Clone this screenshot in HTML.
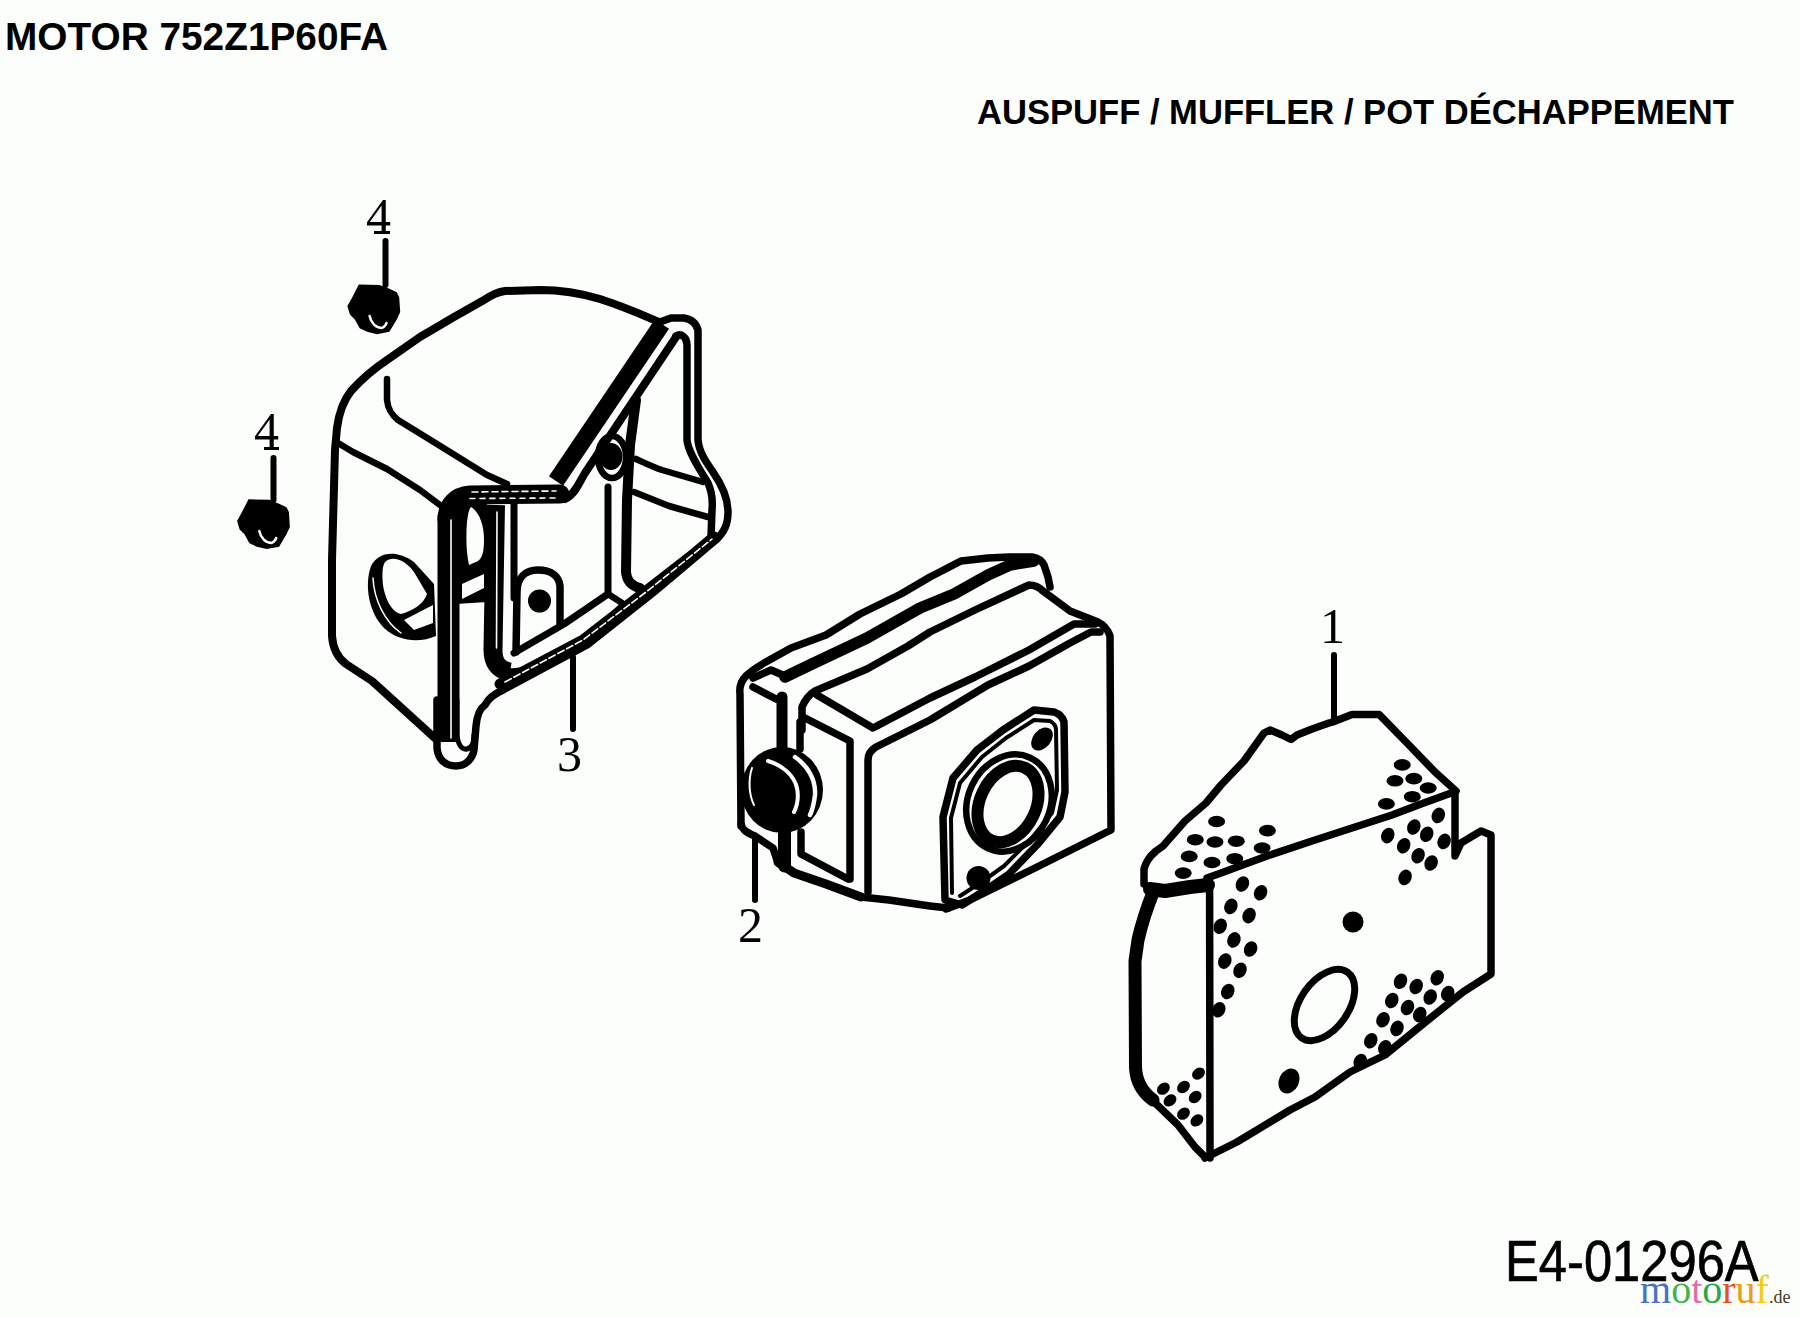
<!DOCTYPE html>
<html><head><meta charset="utf-8">
<style>
html,body{margin:0;padding:0;background:#fcfefc;width:1800px;height:1317px;overflow:hidden;position:relative}
.t{position:absolute;white-space:nowrap;color:#000;line-height:1}
.h1{font:bold 38.8px "Liberation Sans",sans-serif;left:5px;top:15px}
.h2{font:bold 34.6px "Liberation Sans",sans-serif;left:977px;top:92.5px}
.lb{font:50px "Liberation Serif",serif}
.code{font:58px "Liberation Sans",sans-serif;-webkit-text-stroke:0.7px #000;left:1505px;top:1227px;transform:scaleX(0.874);transform-origin:0 0}
.wm{font:40px "Liberation Serif",serif;left:1640px;top:1266px;letter-spacing:0}
svg{position:absolute;left:0;top:0}
</style></head><body>
<div class="t h1">MOTOR 752Z1P60FA</div>
<div class="t h2">AUSPUFF / MUFFLER / POT DÉCHAPPEMENT</div>
<svg width="1800" height="1317" viewBox="0 0 1800 1317">
<g fill="none" stroke="#000" stroke-linecap="round" stroke-linejoin="round">
<!-- ===== PART 3 ===== -->
<g id="p3" stroke-width="8">
<path d="M659,322 C645,316 625,307 600,299 C580,293 560,290 540,290 L505,291 C497,292 490,296 484,300 L454,317 L420,337 L387,360 C372,370 360,381 351,391 C343,401 339,413 337,428 L335,450 L332,560 L332,636 C333,650 338,658 346,664 L372,681 L437,740"/>
<path d="M387,379 L387,400 C388,410 392,415 398,420 L437,444 L487,475 L507,484" stroke-width="6.5"/>
<path d="M338,443 L353,452 L387,469 L420,490 L444,508" stroke-width="6.5"/>
<!-- rim outer contour -->
<path d="M660,322 L671,318 L684,318 C691,319 696,323 698,330 L698,440 C699,452 706,462 713,472 C722,485 728,497 728,512 C728,525 724,532 716,540 L697,556 L654,592 L587,645 L503,690 C494,694 488,699 485,705 C479,709 477,716 476,726 L474,750 C472,760 465,766 456,766 C446,766 438,760 437,748 L437,700" stroke-width="7.5"/>
<!-- bottom band (double line merged) -->
<path d="M714,537 L695,553 L650,588 L583,640 L500,684" stroke-width="11"/>
<!-- rim inner contour right side -->
<path d="M676,336 C681,333 687,337 687,345 L687,440 C688,452 700,470 708,483 C712,492 713,500 712,510 L711,537" stroke-width="7.5"/>

<!-- C region between band1 and band2 -->
<path d="M456,503 L487,503 L487,602 L456,604 Z" fill="#000" stroke="none"/>
<path d="M471,507 C479,512 484,524 484,540 C484,552 482,558 478,561 L469,565 C466,552 466,535 467,522 C468,514 469,509 471,507 Z" fill="#fcfefc" stroke="none"/>
<path d="M462,584 L484,574 L484,588 L462,599 Z" fill="#fcfefc" stroke="none"/>
<!-- side oval opening -->
<path d="M371,566 C378,552 396,549 414,562 L434,584 L436,636 C420,643 399,642 384,628 C369,613 364,586 371,566 Z" fill="#000" stroke="none"/>
<path d="M385,562 C393,555 405,560 414,572 L427,594 C424,604 412,611 401,614 C391,612 385,598 383,585 C382,575 382,567 385,562 Z" fill="#fcfefc" stroke="none"/>
<path d="M404,620 L433,605 L433,623 L414,630 Z" fill="#fcfefc" stroke="none"/>
<path d="M373,578 C374,600 385,622 401,633" stroke="#fcfefc" stroke-width="1.5"/>
<!-- band1 diagonal -->
<path d="M662,324 L556,481" stroke-width="17" stroke-linecap="butt"/>
<!-- band2 diagonal -->
<path d="M676,337 L585,473 C580,481 575,495 565,499" stroke-width="8"/>
<!-- horizontal band -->
<path d="M560,494 L470,495 C456,496 447,505 447,520" stroke-width="19"/>
<!-- vertical band left -->
<path d="M448.5,515 L448.5,742" stroke-width="22" stroke-linecap="butt"/>

<!-- tab inner U -->
<path d="M457,700 L457,735 C458,745 462,750 467,749 C472,748 474,742 474,735" stroke-width="5"/>
<!-- interior vertical band 2 -->
<path d="M495.5,505 L493,650 C493,662 498,670 510,672" stroke-width="19" stroke-linecap="butt"/>
<!-- white strip lower boundary -->
<path d="M494,668 C504,673 520,672 534,668 L576,650 L622,606" stroke-width="6.5"/>
<!-- white strip upper boundary / lug -->
<path d="M514,653 L564,624 L608,594 L608,487" stroke-width="7"/>
<path d="M608,594 L622,603" stroke-width="6.5"/>
<!-- lug -->
<path d="M516,652 L517,592 C517,578 525,570 538,570 C551,570 559,576 560,586 L560,624" stroke-width="7.5"/>
<circle cx="539.5" cy="601" r="11.5" fill="#000" stroke="none"/>
<path d="M514,503 L514,598" stroke-width="7"/>
<!-- post thick -->
<path d="M636,400 L630,445 L627,500 L626,572 C627,582 632,586 640,588" stroke-width="10"/>
<!-- inner wall lines -->
<path d="M636,459 C645,463 653,467 662,470 L703,482" stroke-width="6.5"/>
<path d="M634,492 L669,506 L708,517" stroke-width="6.5"/>
<!-- nut hole at top -->
<ellipse cx="612" cy="457" rx="14" ry="21" stroke-width="6.5"/>
<ellipse cx="611" cy="456.5" rx="11.5" ry="13.5" fill="#000" stroke="none"/>
<!-- white hairlines inside bands -->
<g stroke="#fcfefc" stroke-width="1.6" fill="none">
<path d="M451,520 L451,738"/>
<path d="M497,512 L496.5,648"/>
<path d="M505,682 L583,640 L650,589 L712,539" stroke-dasharray="7 3"/>
<path d="M472,492 L556,491" stroke-dasharray="6 4"/>
<path d="M470,498.5 L558,498" stroke-dasharray="5 5"/>
</g>
</g>
<!-- ===== PART 2 ===== -->
<g id="p2" stroke-width="7.5">
<!-- flange outer -->
<path d="M741,826 L740,694 C739,686 742,680 746,676 C752,670 758,667 764,663 L791,648 L826,635 L860,614 L901,594 L930,577 L961,561 L988,558 L1009,557 L1032,557 C1038,558 1042,561 1044,565 L1048,577 L1050,587"/>
<!-- flange bottom left edge -->
<path d="M741,824 C742,829 745,832 755,836 L773,848 L778,863 L794,873 L826,884 L861,897 L889,900 L930,906 L948,908"/>
<!-- corner small face -->
<path d="M753,678 L771,670 L785,676 M753,687 L776,699"/>
<path d="M782,697 L782,752" stroke-width="11"/>
<path d="M800,722 L800,749" stroke-width="7.5"/>
<!-- flange inner thick edge -->
<path d="M785,677 L812,664 L867,638 L920,608 L954,594 L988,575 L1010,565 L1034,561" stroke-width="11.5"/>
<!-- body top-left edge + back + right edge -->
<path d="M802,730 L802,707 C805,700 810,694 815,691 L867,669 L908,646 L930,632 L975,610 L1016,591 L1029,585 C1035,585 1040,588 1043,591 L1070,611 L1098,622 C1104,625 1108,630 1110,636 L1111,830 L1037,867 L970,900 L946,909"/>
<!-- top face front edge -->
<path d="M817,695 L873,728 L930,698 L975,677 L1029,650 L1074,624 L1095,624"/>
<!-- front face top edge + left edge -->
<path d="M868,892 L868,760 C868,754 871,750 876,747 L930,720 L988,685 L1029,666 L1070,643 L1091,632 L1100,632"/>
<!-- flange side face -->
<path d="M805,718 L850,741 L850,879"/>
<path d="M784.5,826 L784.5,866" stroke-width="13"/>
<path d="M801,832 L801,854 L848,879"/>
<path d="M778,862 L794,873 L826,884 L861,897" stroke-width="9"/>
<!-- pipe boss -->
<ellipse cx="782" cy="790" rx="41" ry="43" fill="#000" stroke="none"/>
<path d="M795,757 C808,766 816,780 815,795 C814,803 813,809 810,815" stroke="#fcfefc" stroke-width="4.5"/>
<path d="M768,761 C782,765 794,775 797,788 C799,798 797,806 794,812" stroke="#fcfefc" stroke-width="4"/>
<path d="M752,768 C748,780 749,795 754,805" stroke="#fcfefc" stroke-width="2"/>
<!-- front flange plate -->
<path d="M945,900 L943,817 L953,778 L977,750 L1003,730 L1034,710 L1054,712 C1060,714 1063,718 1064,722 L1065,792 L1060,817 L1037,845 L1009,874 L987,889 L962,905 Z"/>
<path d="M952,893 L951,818 L960,783 L982,757 L1006,738 L1034,720 L1050,721 C1054,723 1056,726 1056,730 L1057,790 L1052,813 L1031,839 L1004,866 L983,881 L960,896" stroke-width="4"/>
<!-- big ring -->
<ellipse cx="1009" cy="803" rx="41" ry="50" transform="rotate(25 1009 803)" stroke-width="6.5"/>
<ellipse cx="1008" cy="804" rx="28" ry="40" transform="rotate(25 1008 804)" stroke-width="12"/>
<!-- bolt holes -->
<ellipse cx="1042" cy="739" rx="9" ry="13" transform="rotate(40 1042 739)" fill="#000" stroke="none"/>
<circle cx="978.5" cy="878" r="12" fill="#000" stroke="none"/>
</g>
<!-- ===== PART 1 ===== -->
<g id="p1" stroke-width="7.5">
<!-- top outline -->
<path d="M1144,884 L1144,869 C1146,861 1150,856 1156,851 L1163,846 L1185,821 L1206,803 L1221,785 L1244,761 L1264,733 L1270,730 L1282,735 L1291,739.5 L1297,735 L1312,729 L1329,723 L1334,721.6 L1352,714.4 L1379,714.4 L1407,743 L1435,772 L1456,791"/>
<!-- right fold vertical + notch + right edge + bottom -->
<path d="M1455,792 L1455,856 L1461,843 L1481,831 L1491,835 L1491,974 L1463,992 L1428,1020 L1385,1055 L1350,1072 L1315,1097 L1290,1110 L1237,1142 L1205,1158"/>
<!-- fold diagonal -->
<path d="M1207,878 L1221,873 L1267,856 L1312,841 L1392,815 L1421,804 L1454,792"/>
<!-- left thick edge -->
<path d="M1154,890 C1148,905 1142,922 1138,940 L1135,961 L1135.5,1067 C1136,1080 1142,1092 1153,1100" stroke-width="13"/>
<path d="M1150,1098 L1178,1125 L1195,1147 L1205,1157" stroke-width="7.5"/>
<path d="M1150,889 L1165,891 L1190,887 L1208,885" stroke-width="14"/>
<!-- vertical fold -->
<path d="M1209.6,883 L1210,1158"/>
<!-- big oval -->
<ellipse cx="1324.5" cy="1005" rx="24" ry="40" transform="rotate(35 1324.5 1005)" stroke-width="7"/>
<!-- filled dots -->
<g fill="#000" stroke="none">
<circle cx="1353" cy="922" r="10.5"/>
<ellipse cx="1289" cy="1081" rx="10" ry="13" transform="rotate(25 1289 1081)"/>
<ellipse cx="1216.6" cy="821.5" rx="8.5" ry="5.8"/>
<ellipse cx="1195.3" cy="839.7" rx="8.5" ry="5.8"/>
<ellipse cx="1215" cy="842" rx="8.5" ry="5.8"/>
<ellipse cx="1236.3" cy="841.2" rx="8.5" ry="5.8"/>
<ellipse cx="1267.4" cy="830.6" rx="8.5" ry="5.8"/>
<ellipse cx="1262.1" cy="848" rx="8.5" ry="5.8"/>
<ellipse cx="1189.2" cy="856.4" rx="8.5" ry="5.8"/>
<ellipse cx="1212" cy="862.5" rx="8.5" ry="5.8"/>
<ellipse cx="1234.8" cy="858.7" rx="8.5" ry="5.8"/>
<ellipse cx="1183.2" cy="873.1" rx="8.5" ry="5.8"/>
<ellipse cx="1402.2" cy="764.9" rx="8.5" ry="5.8"/>
<ellipse cx="1395" cy="780.8" rx="8.5" ry="5.8"/>
<ellipse cx="1413.8" cy="778.6" rx="8.5" ry="5.8"/>
<ellipse cx="1428.2" cy="788" rx="8.5" ry="5.8"/>
<ellipse cx="1412.3" cy="796.7" rx="8.5" ry="5.8"/>
<ellipse cx="1386.4" cy="803.9" rx="8.5" ry="5.8"/>
<ellipse cx="1242.4" cy="884" rx="6.5" ry="8" transform="rotate(25 1242.4 884)"/>
<ellipse cx="1260.6" cy="892.8" rx="6.5" ry="8" transform="rotate(25 1260.6 892.8)"/>
<ellipse cx="1230.9" cy="906.4" rx="6.5" ry="8" transform="rotate(25 1230.9 906.4)"/>
<ellipse cx="1249.1" cy="915.6" rx="6.5" ry="8" transform="rotate(25 1249.1 915.6)"/>
<ellipse cx="1220.2" cy="926.2" rx="6.5" ry="8" transform="rotate(25 1220.2 926.2)"/>
<ellipse cx="1233.9" cy="939.9" rx="6.5" ry="8" transform="rotate(25 1233.9 939.9)"/>
<ellipse cx="1250.6" cy="949" rx="6.5" ry="8" transform="rotate(25 1250.6 949)"/>
<ellipse cx="1224.8" cy="961.1" rx="6.5" ry="8" transform="rotate(25 1224.8 961.1)"/>
<ellipse cx="1240" cy="970.2" rx="6.5" ry="8" transform="rotate(25 1240 970.2)"/>
<ellipse cx="1227.8" cy="991.5" rx="6.5" ry="8" transform="rotate(25 1227.8 991.5)"/>
<ellipse cx="1218.7" cy="1009.7" rx="6.5" ry="8" transform="rotate(25 1218.7 1009.7)"/>
<ellipse cx="1387.8" cy="835.6" rx="6.5" ry="8" transform="rotate(25 1387.8 835.6)"/>
<ellipse cx="1413.8" cy="827" rx="6.5" ry="8" transform="rotate(25 1413.8 827)"/>
<ellipse cx="1438.3" cy="815.4" rx="6.5" ry="8" transform="rotate(25 1438.3 815.4)"/>
<ellipse cx="1426.7" cy="834.2" rx="6.5" ry="8" transform="rotate(25 1426.7 834.2)"/>
<ellipse cx="1444.1" cy="841.4" rx="6.5" ry="8" transform="rotate(25 1444.1 841.4)"/>
<ellipse cx="1403.7" cy="845.7" rx="6.5" ry="8" transform="rotate(25 1403.7 845.7)"/>
<ellipse cx="1418.1" cy="855.8" rx="6.5" ry="8" transform="rotate(25 1418.1 855.8)"/>
<ellipse cx="1431.1" cy="863" rx="6.5" ry="8" transform="rotate(25 1431.1 863)"/>
<ellipse cx="1405.1" cy="877.4" rx="6.5" ry="8" transform="rotate(25 1405.1 877.4)"/>
<ellipse cx="1400.5" cy="981.3" rx="6.5" ry="8" transform="rotate(25 1400.5 981.3)"/>
<ellipse cx="1416.2" cy="986.5" rx="6.5" ry="8" transform="rotate(25 1416.2 986.5)"/>
<ellipse cx="1437.2" cy="977.8" rx="6.5" ry="8" transform="rotate(25 1437.2 977.8)"/>
<ellipse cx="1430.2" cy="997" rx="6.5" ry="8" transform="rotate(25 1430.2 997)"/>
<ellipse cx="1447.7" cy="993.5" rx="6.5" ry="8" transform="rotate(25 1447.7 993.5)"/>
<ellipse cx="1391.8" cy="1000.5" rx="6.5" ry="8" transform="rotate(25 1391.8 1000.5)"/>
<ellipse cx="1407.5" cy="1007.5" rx="6.5" ry="8" transform="rotate(25 1407.5 1007.5)"/>
<ellipse cx="1419.7" cy="1014.5" rx="6.5" ry="8" transform="rotate(25 1419.7 1014.5)"/>
<ellipse cx="1383" cy="1019.7" rx="6.5" ry="8" transform="rotate(25 1383 1019.7)"/>
<ellipse cx="1397" cy="1028.4" rx="6.5" ry="8" transform="rotate(25 1397 1028.4)"/>
<ellipse cx="1370.8" cy="1040.7" rx="6.5" ry="8" transform="rotate(25 1370.8 1040.7)"/>
<ellipse cx="1384.8" cy="1047.7" rx="6.5" ry="8" transform="rotate(25 1384.8 1047.7)"/>
<ellipse cx="1360.3" cy="1061.6" rx="6.5" ry="8" transform="rotate(25 1360.3 1061.6)"/>
<ellipse cx="1198.5" cy="1073.6" rx="7" ry="5.5" transform="rotate(-40 1198.5 1073.6)"/>
<ellipse cx="1183.5" cy="1087" rx="7" ry="5.5" transform="rotate(-40 1183.5 1087)"/>
<ellipse cx="1163.4" cy="1088.7" rx="7" ry="5.5" transform="rotate(-40 1163.4 1088.7)"/>
<ellipse cx="1170" cy="1100.4" rx="7" ry="5.5" transform="rotate(-40 1170 1100.4)"/>
<ellipse cx="1195.2" cy="1097" rx="7" ry="5.5" transform="rotate(-40 1195.2 1097)"/>
<ellipse cx="1183.5" cy="1113.7" rx="7" ry="5.5" transform="rotate(-40 1183.5 1113.7)"/>
<ellipse cx="1196.9" cy="1120.4" rx="7" ry="5.5" transform="rotate(-40 1196.9 1120.4)"/>
</g>
</g>
<!-- leaders -->
<g id="leaders" stroke-width="7.5">
<path d="M385.5,241 L385.5,285" stroke-width="6"/>
<path d="M273.5,458 L273.5,500" stroke-width="6"/>
<path d="M573,657 L573,729" stroke-width="6"/>
<path d="M755,838 L755,900" stroke-width="6"/>
<path d="M1334,655 L1334,721" stroke-width="6"/>
<g fill="#000" stroke="none">
<path d="M358.8,284.4 L379.5,284.9 L389.4,288.8 L396.8,292.3 L399.2,297.2 L400.2,312 L396.8,319.4 L389.4,331.8 L377,334.2 L367.1,331.8 L359.7,328.3 L354.8,319.4 L349.9,314.5 L347.4,306.1 L352.3,297.2 Z"/>
<path transform="translate(-110.3,214.9)" d="M358.8,284.4 L379.5,284.9 L389.4,288.8 L396.8,292.3 L399.2,297.2 L400.2,312 L396.8,319.4 L389.4,331.8 L377,334.2 L367.1,331.8 L359.7,328.3 L354.8,319.4 L349.9,314.5 L347.4,306.1 L352.3,297.2 Z"/>
</g>
<path d="M369.6,316 C371,323 376,328 382,328 C384,327 386,325 386.5,323" stroke="#fcfefc" stroke-width="2.5"/>
<path transform="translate(-110.3,214.9)" d="M369.6,316 C371,323 376,328 382,328 C384,327 386,325 386.5,323" stroke="#fcfefc" stroke-width="2.5"/>
</g>
</g>
</svg>
<div class="t lb" style="left:366px;top:187px">4</div>
<div style="position:absolute;left:374px;top:230.5px;width:16px;height:3px;background:#000"></div>
<div class="t lb" style="left:254px;top:401px">4</div>
<div style="position:absolute;left:263.5px;top:446.5px;width:15px;height:3px;background:#000"></div>
<div class="t lb" style="left:557px;top:725px">3</div>
<div class="t lb" style="left:738px;top:896px">2</div>
<div class="t lb" style="left:1320px;top:597px">1</div>
<div class="t code">E4-01296A</div>
<div class="t wm"><span style="color:#4a72c0">m</span><span style="color:#46b34a">o</span><span style="color:#e56aa6">t</span><span style="color:#27a745">o</span><span style="color:#e5521f">r</span><span style="color:#f09a1c">u</span><span style="color:#f5cc1a">f</span><span style="font-size:18px;color:#3d3a22">.de</span></div>
</body></html>
